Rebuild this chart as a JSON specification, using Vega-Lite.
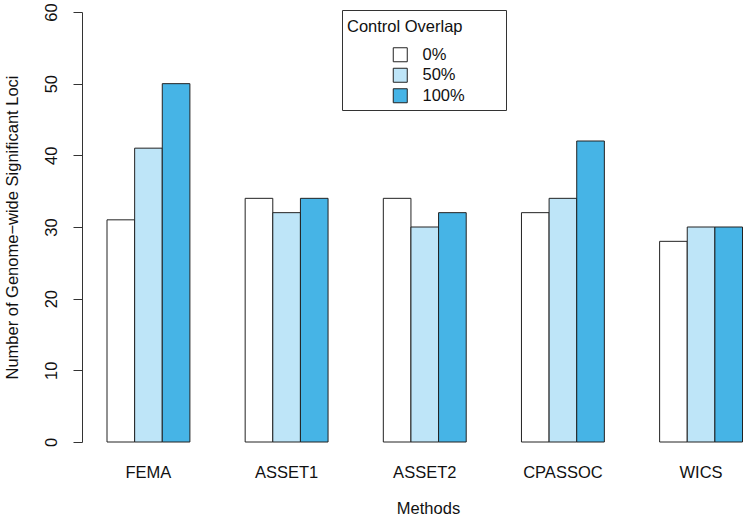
{
  "$schema": "https://vega.github.io/schema/vega-lite/v6.json",
  "autosize": {"type": "none"},
  "width": 666,
  "height": 430,
  "padding": {"left": 82, "top": 12, "right": 0, "bottom": 83},
  "background": "white",
  "config": {
    "view": {"stroke": null},
    "font": "Liberation Sans",
    "axis": {"labelFont": "Liberation Sans", "titleFont": "Liberation Sans", "labelColor": "#111", "titleColor": "#111", "labelFontSize": 16.5, "titleFontSize": 16.5, "titleFontWeight": "normal", "grid": false}
  },
  "data": {
    "values": [
      {"method": "FEMA", "overlap": "0%", "loci": 31},
      {"method": "FEMA", "overlap": "50%", "loci": 41},
      {"method": "FEMA", "overlap": "100%", "loci": 50},
      {"method": "ASSET1", "overlap": "0%", "loci": 34},
      {"method": "ASSET1", "overlap": "50%", "loci": 32},
      {"method": "ASSET1", "overlap": "100%", "loci": 34},
      {"method": "ASSET2", "overlap": "0%", "loci": 34},
      {"method": "ASSET2", "overlap": "50%", "loci": 30},
      {"method": "ASSET2", "overlap": "100%", "loci": 32},
      {"method": "CPASSOC", "overlap": "0%", "loci": 32},
      {"method": "CPASSOC", "overlap": "50%", "loci": 34},
      {"method": "CPASSOC", "overlap": "100%", "loci": 42},
      {"method": "WICS", "overlap": "0%", "loci": 28},
      {"method": "WICS", "overlap": "50%", "loci": 30},
      {"method": "WICS", "overlap": "100%", "loci": 30}
    ]
  },
  "mark": {"type": "bar", "stroke": "#222", "strokeWidth": 1},
  "encoding": {
    "x": {
      "field": "method", "type": "nominal",
      "sort": ["FEMA", "ASSET1", "ASSET2", "CPASSOC", "WICS"],
      "scale": {"paddingInner": 0.4, "paddingOuter": 0.1104, "align": 0.82},
      "axis": {"title": "Methods", "labelAngle": 0, "domain": false, "ticks": false, "labelPadding": 22, "titlePadding": 20, "titleX": 346}
    },
    "xOffset": {
      "field": "overlap", "type": "nominal",
      "sort": ["0%", "50%", "100%"],
      "scale": {"paddingInner": 0, "paddingOuter": 0}
    },
    "y": {
      "field": "loci", "type": "quantitative",
      "scale": {"domain": [0, 60], "nice": false, "zero": true},
      "axis": {"title": "Number of Genome−wide Significant Loci", "values": [0, 10, 20, 30, 40, 50, 60], "labelAngle": 270, "labelAlign": "center", "labelBaseline": "bottom", "tickSize": 9, "labelPadding": 14, "titlePadding": 23, "domainColor": "#333", "tickColor": "#333"}
    },
    "fill": {
      "field": "overlap", "type": "nominal",
      "sort": ["0%", "50%", "100%"],
      "scale": {"domain": ["0%", "50%", "100%"], "range": ["#FFFFFF", "#BEE5F8", "#46B4E6"]},
      "legend": {
        "title": "Control Overlap",
        "orient": "none", "legendX": 260, "legendY": -2,
        "strokeColor": "#333", "padding": 5,
        "titleFont": "Liberation Sans", "titleFontSize": 16.5, "titleFontWeight": "normal", "titleColor": "#111",
        "titleBaseline": "line-top", "titleLineHeight": 24,
        "labelFont": "Liberation Sans", "labelFontSize": 16.5, "labelColor": "#111",
        "labelExpr": "datum.label + '\u2800\u2800\u2800'",
        "symbolType": "square", "symbolSize": 196, "symbolStrokeColor": "#222", "symbolStrokeWidth": 1,
        "symbolOffset": 45, "labelOffset": 14, "rowPadding": 1.5, "titlePadding": 15
      }
    }
  }
}
